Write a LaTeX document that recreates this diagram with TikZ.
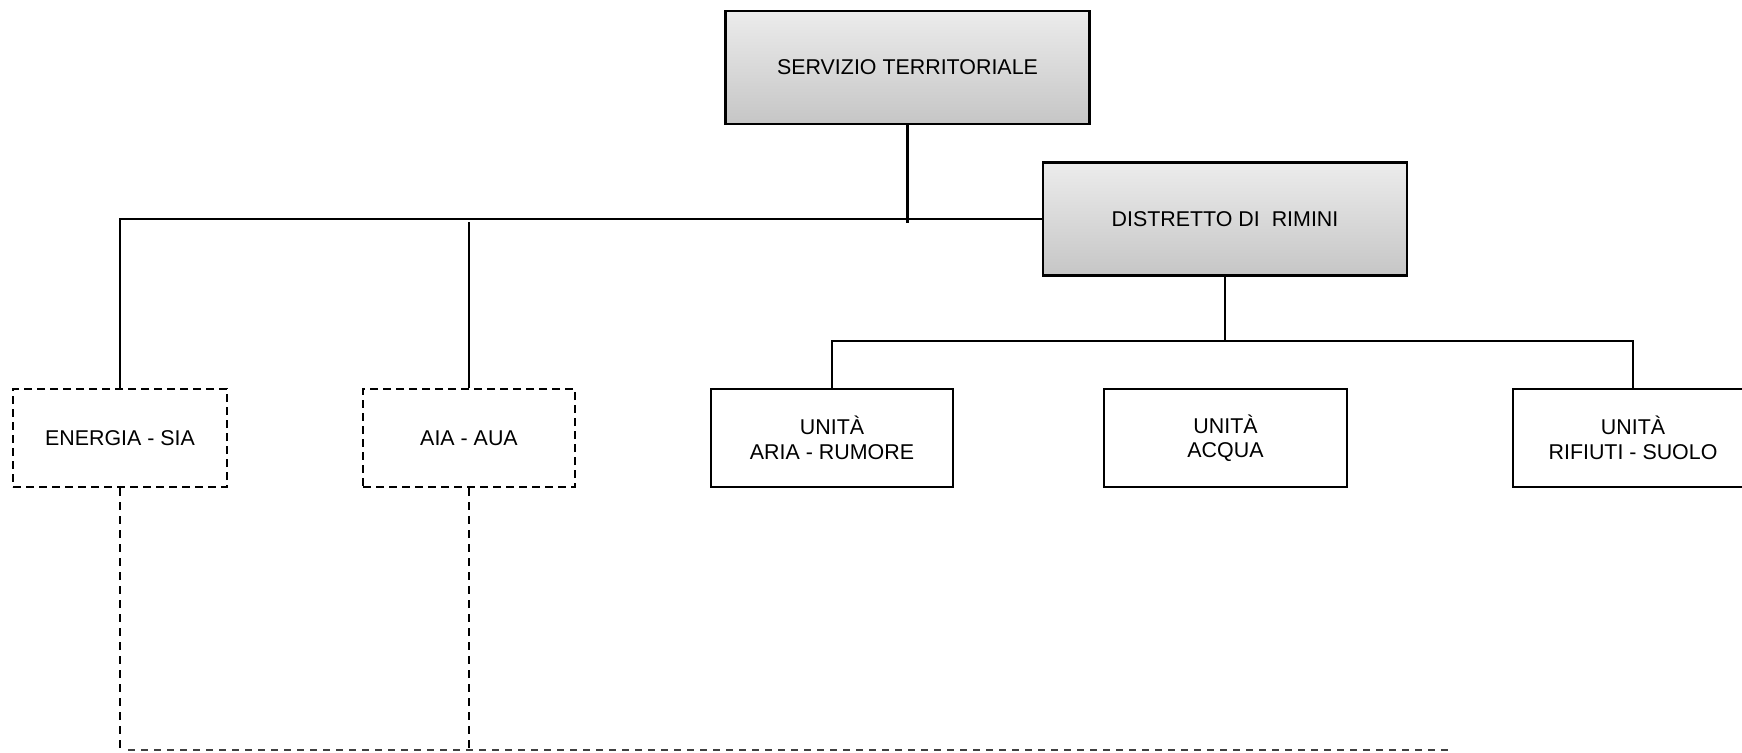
\documentclass[tikz,border=0pt]{standalone}
\usepackage{fontspec}
\setmainfont{Liberation Sans}
\begin{document}
\begin{tikzpicture}[x=1pt,y=-1pt,
  every node/.style={font=\fontsize{21.4}{24.5}\selectfont, align=center, inner sep=0pt},
  headbox/.style={draw=black, line width=2.5pt, top color=gray!15, bottom color=gray!45,
                  minimum width=364pt, minimum height=113pt},
  unitbox/.style={draw=black, line width=2pt, fill=white, minimum width=242pt, minimum height=98pt},
  sidebox/.style={draw=black, line width=2pt, dash pattern=on 8pt off 5pt,
                  minimum width=212pt, minimum height=98pt},
  wire/.style={line width=2pt},
  dashwire/.style={line width=2pt, dash pattern=on 8pt off 6pt},
  basewire/.style={line width=2pt, black!75, dash pattern=on 7pt off 6pt}]
\useasboundingbox (0,0) rectangle (1742,752);
\begin{scope}
\clip (0,0) rectangle (1742,752);

% Boxes
\node[headbox] (st) at (907.5,67.5) {SERVIZIO TERRITORIALE};
\node[headbox] (dist) at (1225,219) {DISTRETTO DI\ \ RIMINI};
\node[sidebox, minimum width=214pt] (energia) at (120,438) {ENERGIA - SIA};
\node[sidebox] (aia) at (469,438) {AIA - AUA};
\node[unitbox] (aria) at (832,438) {UNITÀ\\ARIA - RUMORE};
\node[unitbox, minimum width=243pt] (acqua) at (1225.5,438) {UNITÀ\\ACQUA};
\node[unitbox, minimum width=240pt] (rifiuti) at (1633,438) {UNITÀ\\RIFIUTI - SUOLO};

% Junction points
\coordinate (stdrop) at (st.south |- 0,223);
\coordinate (bus) at (120,219);
\coordinate (aiatop) at (aia.north |- 0,222);
\coordinate (ubus) at (dist.south |- 0,341);
\coordinate (aiabase) at (aia.south |- 0,750);
\coordinate (enbase) at (energia.south |- 0,750);
\coordinate (baseend) at (1450,750);
\coordinate (basestart) at (128,750);

% Solid hierarchy lines
\draw[wire, line width=3.5pt] (st.south) -- (stdrop);
\draw[wire] (energia.north) -- (bus) -- (dist.west);
\draw[wire, line width=2.5pt] (aiatop) -- (aia.north);
\draw[wire] (dist.south) -- (ubus);
\draw[wire] (aria.north) |- (ubus) -| (rifiuti.north);

% Dashed links
\draw[dashwire] (energia.south) -- (enbase);
\draw[dashwire] (aia.south) -- (aiabase);
\draw[basewire] (basestart) -- (baseend);
\end{scope}
\end{tikzpicture}
\end{document}
